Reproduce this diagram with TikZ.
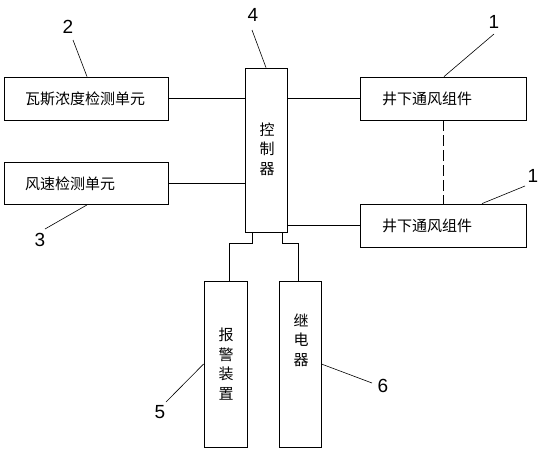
\documentclass[tikz,border=0pt]{standalone}
\usepackage{fontspec}
\setmainfont{Noto Sans CJK SC}
\newfontfamily\numfont{Liberation Sans}
\begin{document}
\begin{tikzpicture}[x=1pt,y=1pt,
  box/.style={draw,line width=0.8pt,inner sep=0pt,font=\fontsize{15}{19}\selectfont},
  hbox/.style={box,minimum height=43pt,text width=0pt},
  vtext/.style={align=center,font=\fontsize{15}{19.5}\selectfont,inner sep=0pt},
  num/.style={font=\numfont\fontsize{19}{19}\selectfont,inner sep=0pt},
  wire/.style={line width=0.8pt},
  leader/.style={line width=0.6pt}]
\useasboundingbox (0,0) rectangle (542,-455);
\begin{scope}[yscale=-1]
  % boxes
  \node[box,minimum width=164pt,minimum height=43pt] (A) at (86,98.5) {};
  \node[anchor=west,inner sep=0pt,font=\fontsize{15}{19}\selectfont] (At) at (25,99) {瓦斯浓度检测单元};
  \node[box,minimum width=164pt,minimum height=42pt] (B) at (86,183.5) {};
  \node[anchor=west,inner sep=0pt,font=\fontsize{15}{19}\selectfont] (Bt) at (25,184) {风速检测单元};
  \node[box,minimum width=42pt,minimum height=164pt] (C) at (266,150) {};
  \node[vtext] (Ct) at (267,149) {控\\制\\器};
  \node[box,minimum width=166pt,minimum height=43pt] (D) at (443,98.5) {};
  \node[anchor=west,inner sep=0pt,font=\fontsize{15}{19}\selectfont] (Dt) at (382,99) {井下通风组件};
  \node[box,minimum width=166pt,minimum height=43pt] (E) at (443,225.5) {};
  \node[anchor=west,inner sep=0pt,font=\fontsize{15}{19}\selectfont] (Et) at (382,226) {井下通风组件};
  \node[box,minimum width=43pt,minimum height=166pt] (F) at (225.5,364) {};
  \node[vtext] (Ft) at (226,364) {报\\警\\装\\置};
  \node[box,minimum width=42pt,minimum height=166pt] (G) at (300,364) {};
  \node[vtext] (Gt) at (301,340) {继\\电\\器};
  % wires
  \draw[wire] (A.east) -- (A.east -| C.west);
  \draw[wire] (B.east) -- (B.east -| C.west);
  \draw[wire] (D.west -| C.east) -- (D.west);
  \draw[wire] (E.west -| C.east) -- (E.west);
  \draw[wire,dash pattern=on 11pt off 4pt] (D.south) -- (E.north);
  \draw[wire] ([xshift=-14pt]C.south) -- ++(0,11) -| ([xshift=3.5pt]F.north);
  \draw[wire] ([xshift=16pt]C.south) -- ++(0,11) -| ([xshift=-2pt]G.north);
  % labels
  \node[num] (l2) at (68,27) {2};
  \coordinate (l2a) at (73,40);
  \draw[leader] (l2a) -- ([xshift=1pt]A.north);
  \node[num] (l4) at (253,15) {4};
  \coordinate (l4a) at (252,30);
  \draw[leader] (l4a) -- (C.north);
  \node[num] (l1a) at (494,22) {1};
  \coordinate (l1aa) at (494,34);
  \draw[leader] (l1aa) -- ([xshift=1pt]D.north);
  \node[num] (l1b) at (533,176) {1};
  \coordinate (l1ba) at (525,186);
  \draw[leader] (l1ba) -- ([xshift=39pt]E.north);
  \node[num] (l3) at (40,240) {3};
  \coordinate (l3a) at (45,229);
  \draw[leader] (l3a) -- ([xshift=1pt]B.south);
  \node[num] (l5) at (160,412) {5};
  \coordinate (l5a) at (166,402);
  \draw[leader] (l5a) -- (F.west);
  \node[num] (l6) at (383,386) {6};
  \coordinate (l6a) at (372,383);
  \draw[leader] (l6a) -- (G.east);
\end{scope}
\end{tikzpicture}
\end{document}
